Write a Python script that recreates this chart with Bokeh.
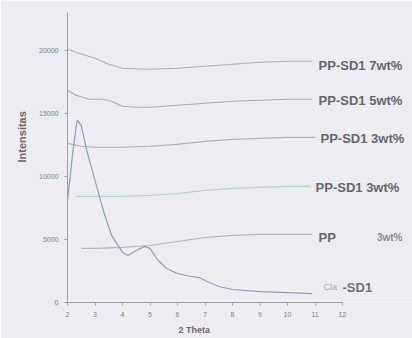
from bokeh.plotting import figure
from bokeh.models import Label, Range1d, FixedTicker, NumeralTickFormatter, Title
from bokeh.embed import file_html
from bokeh.resources import INLINE

# 2-Theta positions and intensities
x_7 = [2.0, 2.3, 3.0, 3.5, 4.0, 5.0, 6.0, 7.0, 8.0, 9.0, 10.0, 10.9]
y_7 = [20100, 19850, 19370, 18900, 18580, 18500, 18580, 18740, 18900, 19050, 19130, 19130]

x_5 = [2.0, 2.3, 2.8, 3.3, 3.6, 4.0, 4.5, 5.0, 6.0, 7.0, 8.0, 9.0, 10.0, 10.9]
y_5 = [16830, 16430, 16120, 16120, 15960, 15560, 15480, 15480, 15640, 15800, 15960, 16040, 16120, 16120]

x_3a = [2.0, 2.5, 3.0, 4.0, 5.0, 6.0, 7.0, 8.0, 9.0, 10.0, 11.0]
y_3a = [12620, 12390, 12310, 12310, 12390, 12540, 12780, 12940, 13020, 13100, 13100]

x_3b = [2.3, 3.0, 4.0, 5.0, 6.0, 7.0, 8.0, 9.0, 10.0, 10.8]
y_3b = [8420, 8420, 8420, 8500, 8650, 8890, 9050, 9130, 9210, 9210]

x_pp = [2.5, 3.0, 4.0, 5.0, 6.0, 7.0, 8.0, 9.0, 10.0, 10.9]
y_pp = [4290, 4290, 4370, 4520, 4840, 5160, 5320, 5400, 5400, 5400]

x_clay = [2.0, 2.2, 2.35, 2.5, 2.7, 3.0, 3.3, 3.6, 4.0, 4.2, 4.5, 4.8, 5.0, 5.3, 5.6,
          6.0, 6.5, 6.8, 7.0, 7.5, 8.0, 9.0, 10.0, 10.9]
y_clay = [8100, 12070, 14450, 14050, 12070, 9690, 7300, 5320, 3970, 3730, 4130, 4450, 4290, 3330, 2700,
          2300, 2060, 1980, 1750, 1270, 1030, 870, 790, 710]

x_ticks = [2, 3, 4, 5, 6, 7, 8, 9, 10, 11, 12]
y_ticks = [0, 5000, 10000, 15000, 20000]

BG = "#ededf1"

p = figure(width=412, height=338, output_backend="svg", toolbar_location=None,
           x_range=Range1d(2, 14.545), y_range=Range1d(0, 23000),
           background_fill_color=BG, border_fill_color=BG,
           min_border_left=67, min_border_right=0, min_border_top=12, min_border_bottom=36)
p.outline_line_color = None
p.xgrid.visible = False
p.ygrid.visible = False

for ax in (p.xaxis[0], p.yaxis[0]):
    ax.axis_line_color = "#a0a0a6"
    ax.major_tick_line_color = "#a0a0a6"
    ax.minor_tick_line_color = None
    ax.major_tick_in = 0
    ax.major_tick_out = 3
    ax.major_label_text_font = "Liberation Sans"
    ax.major_label_text_font_size = "7px"
    ax.major_label_text_color = "#80808a"

p.xaxis.bounds = (2, 12)
p.xaxis.ticker = FixedTicker(ticks=x_ticks)
p.yaxis.ticker = FixedTicker(ticks=y_ticks)
p.yaxis.formatter = NumeralTickFormatter(format="0")
p.xaxis.major_label_standoff = 6
p.yaxis.major_label_standoff = 6

p.add_layout(Title(text="2 Theta", align="left", offset=111, standoff=7,
                   text_font="Liberation Sans", text_font_size="9px", text_font_style="bold",
                   text_color="#6a6a72"), "below")
p.add_layout(Title(text="Intensitas", align="left", offset=140, standoff=18,
                   text_font="Liberation Sans", text_font_size="11px", text_font_style="bold",
                   text_color="#6a6a72"), "left")

p.line(x_7, y_7, line_color="#b0b0b6", line_width=1.1)
p.line(x_5, y_5, line_color="#a2b2ae", line_width=1.1)
p.line(x_3a, y_3a, line_color="#b0b0b6", line_width=1.1)
p.line(x_3b, y_3b, line_color="#b8d2cc", line_width=1.1)
p.line(x_pp, y_pp, line_color="#b4b6bc", line_width=1.1)
p.line(x_clay, y_clay, line_color="#909cb8", line_width=1.2)

def lab(x, y, t, color="#66666e", size="13px", style="bold"):
    p.add_layout(Label(x=x, y=y, text=t, text_font="Liberation Sans", text_font_size=size,
                       text_font_style=style, text_color=color, text_baseline="middle"))

lab(11.13, 18820, "PP-SD1 7wt%")
lab(11.13, 16040, "PP-SD1 5wt%")
lab(11.2, 13020, "PP-SD1 3wt%")
lab(11.02, 9130, "PP-SD1 3wt%")
lab(11.13, 5160, "PP")
lab(13.25, 5160, "3wt%", color="#8a8a92", size="10px")
lab(11.31, 1190, "Cla", color="#a8a8b0", size="9px", style="normal")
lab(12.0, 1190, "-SD1", color="#70707a")

open("out.html", "w").write(file_html(p, INLINE))
